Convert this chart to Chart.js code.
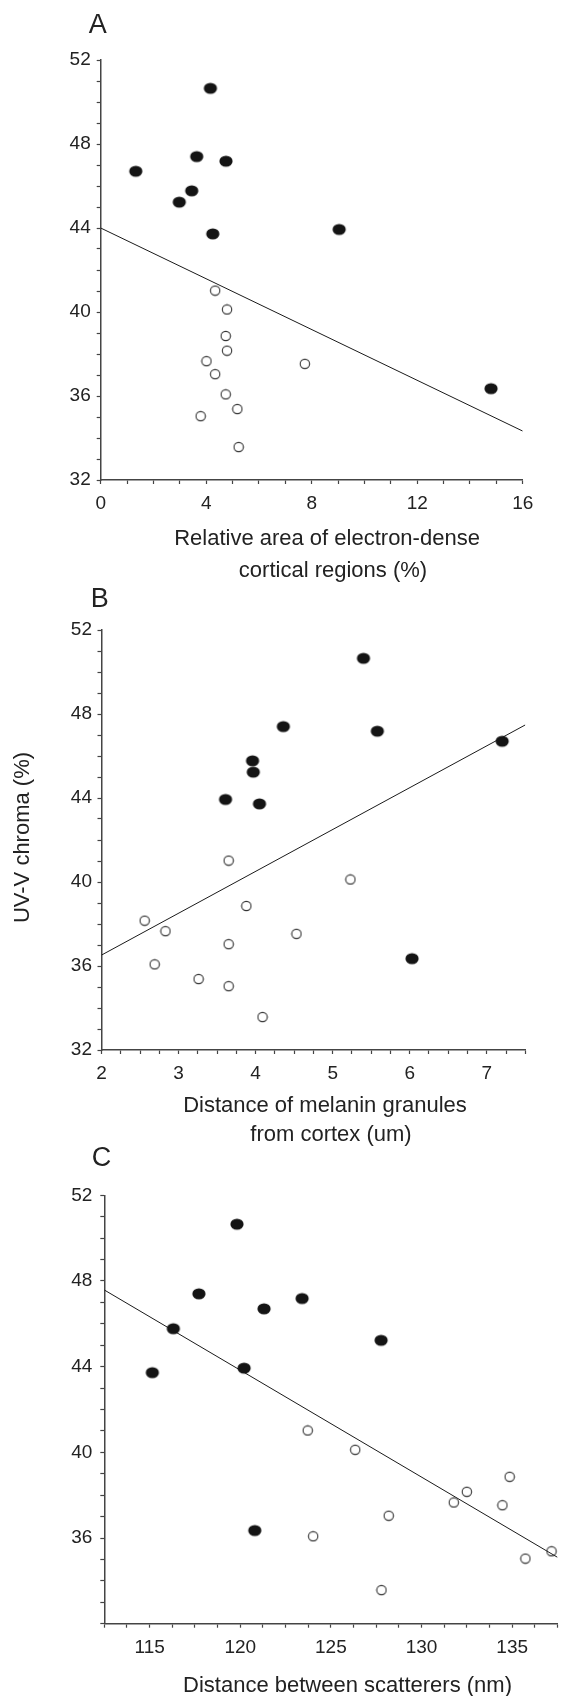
<!DOCTYPE html>
<html>
<head>
<meta charset="utf-8">
<script src="https://cdn.jsdelivr.net/npm/chart.js@4.4.1/dist/chart.umd.min.js"></script>
<style>
  html, body { margin: 0; padding: 0; background: #fff; }
  body { width: 566px; height: 1696px; position: relative; overflow: hidden; }
  canvas { position: absolute; left: 0; }
</style>
</head>
<body>
<canvas id="panelA" width="566" height="585" style="top:0px;width:566px;height:585px"></canvas>
<canvas id="panelB" width="566" height="561" style="top:585px;width:566px;height:561px"></canvas>
<canvas id="panelC" width="566" height="550" style="top:1146px;width:566px;height:550px"></canvas>
<script>
// UV-V chroma (%) of each sample: dark (filled) and light (open) groups
const chromaDark  = [50.65, 47.40, 47.18, 46.70, 45.77, 45.23, 43.93, 43.72, 36.35];
const chromaLight = [41.02, 40.12, 38.86, 38.16, 37.66, 37.53, 37.04, 36.08, 35.38, 35.04, 33.57];

// A: relative area of electron-dense cortical regions (%)
const areaDark  = [4.16, 3.64, 4.75, 1.33, 3.45, 2.98, 9.04, 4.25, 14.80];
const areaLight = [4.34, 4.79, 4.74, 4.79, 4.01, 7.74, 4.34, 4.74, 5.18, 3.79, 5.23];
const areaFitX  = [0, 16];
const areaFitY  = [44.0, 34.33];

// B: distance of melanin granules from cortex (um)
const depthDark  = [5.40, 4.36, 5.58, 7.20, 3.96, 3.97, 3.61, 4.05, 6.03];
const depthLight = [3.65, 5.23, 3.88, 2.56, 2.83, 4.53, 3.65, 2.69, 3.26, 3.65, 4.09];
const depthFitX  = [2, 7.5];
const depthFitY  = [36.52, 47.48];

// C: distance between scatterers (nm)
const spacingDark  = [119.82, 117.72, 123.41, 121.31, 116.31, 127.77, 120.21, 115.15, 120.80];
const spacingLight = [123.72, 126.34, 134.86, 132.50, 131.78, 134.46, 128.19, 124.02, 137.17, 135.73, 127.79];
const spacingFitX  = [112.5, 137.5];
const spacingFitY  = [47.58, 35.10];

// Tick labels
const chromaTicksAB = [32, 36, 40, 44, 48, 52];
const chromaTicksC  = [36, 40, 44, 48, 52];
const areaTicks     = [0, 4, 8, 12, 16];
const depthTicks    = [2, 3, 4, 5, 6, 7];
const spacingTicks  = [115, 120, 125, 130, 135];

const FONT = '"Liberation Sans", Arial, Helvetica, sans-serif';
const INK = '#222';
const AXIS = '#444';

function markerImage(rx, ry, filled) {
  const c = document.createElement('canvas');
  const w = Math.ceil(rx * 2 + 2), h = Math.ceil(ry * 2 + 2);
  c.width = w; c.height = h;
  const g = c.getContext('2d');
  g.beginPath();
  g.ellipse(w / 2, h / 2, rx, ry, 0, 0, Math.PI * 2);
  if (filled) { g.fillStyle = '#141414'; g.fill(); }
  else { g.lineWidth = 1.1; g.strokeStyle = '#333'; g.stroke(); }
  return c;
}
const dotFilled = markerImage(6.6, 5.6, true);
const dotOpen = markerImage(4.7, 4.6, false);

function pairs(xs, ys) { return xs.map((x, i) => ({ x: x, y: ys[i] })); }

function axis(min, max, step, labels, o) {
  return {
    type: 'linear', min: min, max: max,
    afterBuildTicks(scale) {
      const t = [];
      for (let v = min; v <= max + 1e-9; v += step) t.push({ value: +v.toFixed(4) });
      scale.ticks = t;
    },
    afterFit(scale) {
      if (o.width !== undefined) scale.width = o.width;
      if (o.height !== undefined) scale.height = o.height;
    },
    grid: { drawOnChartArea: false, drawTicks: true, tickLength: 4, tickColor: AXIS, tickWidth: 1.2 },
    border: { display: true, color: AXIS, width: 1.5 },
    ticks: {
      autoSkip: false, maxRotation: 0, minRotation: 0, padding: o.pad, color: INK,
      font: { family: FONT, size: 19 },
      callback: (v) => labels.some(l => Math.abs(l - v) < 1e-6) ? String(v) : ''
    }
  };
}

function textLayer(items) {
  return {
    id: 'panelText',
    afterDraw(chart) {
      const ctx = chart.ctx;
      ctx.save();
      ctx.fillStyle = INK;
      ctx.textAlign = 'center';
      for (const it of items) {
        ctx.font = it.size + 'px ' + FONT;
        if (it.rotate) {
          ctx.save();
          ctx.translate(it.x, it.y);
          ctx.rotate(-Math.PI / 2);
          ctx.textBaseline = 'middle';
          ctx.fillText(it.text, 0, 0);
          ctx.restore();
        } else {
          ctx.textBaseline = 'alphabetic';
          ctx.fillText(it.text, it.x, it.y);
        }
      }
      ctx.restore();
    }
  };
}

function panel(id, p) {
  new Chart(document.getElementById(id), {
    type: 'scatter',
    data: {
      datasets: [
        { data: pairs(p.dark, chromaDark), pointStyle: dotFilled, pointRadius: 6, pointHoverRadius: 6 },
        { data: pairs(p.light, chromaLight), pointStyle: dotOpen, pointRadius: 5, pointHoverRadius: 5 },
        { type: 'line', data: pairs(p.fitX, p.fitY), showLine: true, pointRadius: 0,
          borderColor: '#1a1a1a', borderWidth: 1, fill: false, tension: 0 }
      ]
    },
    options: {
      responsive: false, devicePixelRatio: 1, animation: false,
      layout: { padding: p.padding },
      plugins: { legend: { display: false }, tooltip: { enabled: false } },
      scales: { x: p.x, y: p.y }
    },
    plugins: [textLayer(p.text)]
  });
}

panel('panelA', {
  dark: areaDark, light: areaLight, fitX: areaFitX, fitY: areaFitY,
  padding: { left: 0, top: 60, right: 43.3, bottom: 75 },
  x: axis(0, 16, 1, areaTicks, { height: 30, pad: 8.5 }),
  y: axis(32, 52, 1, chromaTicksAB, { width: 100.7, pad: 6 }),
  text: [
    { text: 'A', x: 97.8, y: 33.3, size: 27 },
    { text: 'Relative area of electron-dense', x: 327, y: 545, size: 22 },
    { text: 'cortical regions (%)', x: 333, y: 577, size: 22 }
  ]
});

panel('panelB', {
  dark: depthDark, light: depthLight, fitX: depthFitX, fitY: depthFitY,
  padding: { left: 0, top: 45, right: 40.7, bottom: 66 },
  x: axis(2, 7.5, 0.25, depthTicks, { height: 30, pad: 8.5 }),
  y: axis(32, 52, 1, chromaTicksAB, { width: 101.5, pad: 5.5 }),
  text: [
    { text: 'B', x: 99.8, y: 22, size: 27 },
    { text: 'UV-V chroma (%)', x: 22.5, y: 252.5, size: 22, rotate: true },
    { text: 'Distance of melanin granules', x: 325, y: 526.7, size: 22 },
    { text: 'from cortex (um)', x: 331, y: 555.7, size: 22 }
  ]
});

panel('panelC', {
  dark: spacingDark, light: spacingLight, fitX: spacingFitX, fitY: spacingFitY,
  padding: { left: 0, top: 49.3, right: 0.3, bottom: 42.3 },
  x: axis(112.5, 137.5, 1.25, spacingTicks, { height: 30, pad: 8.5 }),
  y: axis(32, 52, 1, chromaTicksC, { width: 104.3, pad: 8 }),
  text: [
    { text: 'C', x: 101.6, y: 19.5, size: 27 },
    { text: 'Distance between scatterers (nm)', x: 347.5, y: 545.7, size: 22 }
  ]
});
</script>
</body>
</html>
